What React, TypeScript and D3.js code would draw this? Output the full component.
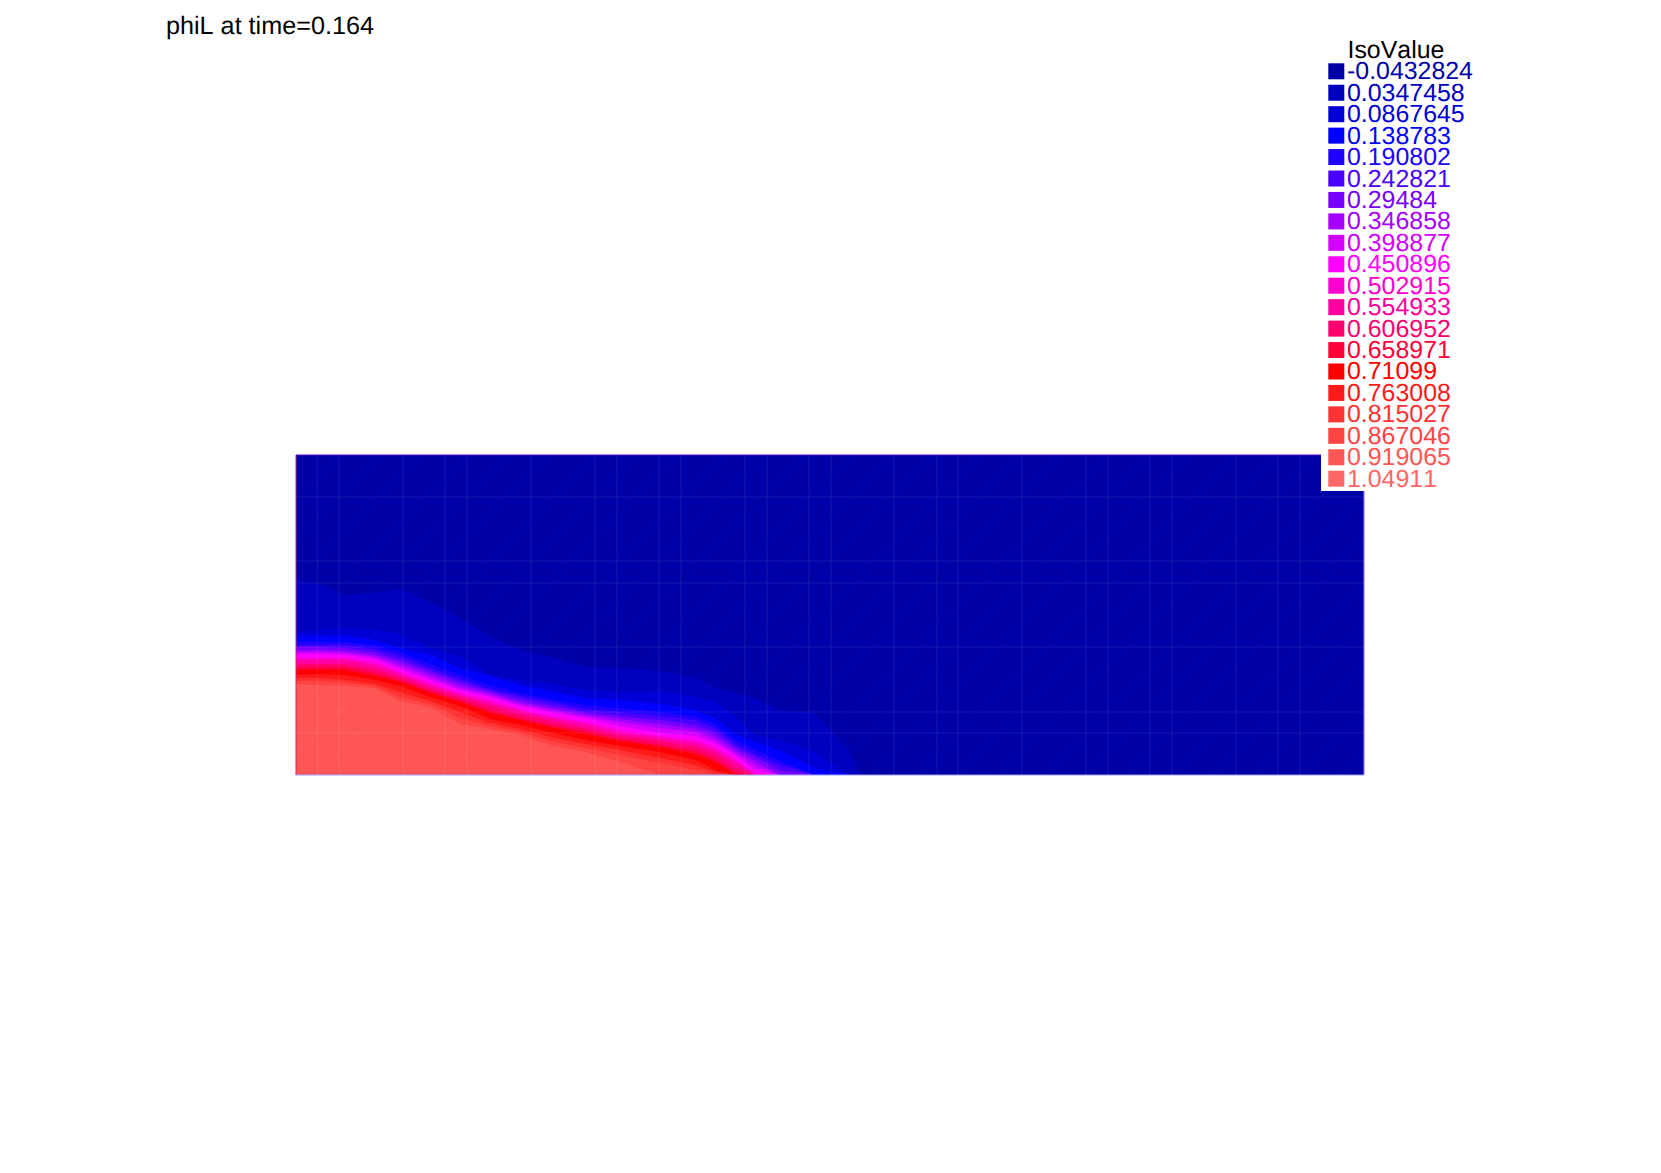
import React from 'react';
import * as d3 from 'd3';

const width = 1661;
const height = 1173;

const title = 'phiL at time=0.164';
const legendTitle = 'IsoValue';

const isoLabels = [
  '-0.0432824', '0.0347458', '0.0867645', '0.138783', '0.190802',
  '0.242821', '0.29484', '0.346858', '0.398877', '0.450896',
  '0.502915', '0.554933', '0.606952', '0.658971', '0.71099',
  '0.763008', '0.815027', '0.867046', '0.919065', '1.04911',
];
const isoColors = [
  '#0000a8', '#0000bf', '#0000d6', '#0000ff', '#2000ff',
  '#4a00ff', '#7800ff', '#a600ff', '#d300ff', '#ff00ff',
  '#ff00d0', '#ff00a0', '#ff0070', '#ff0038', '#ff0000',
  '#ff1a1a', '#ff3333', '#ff4444', '#ff5555', '#ff6666',
];

// mesh units, domain is 10.68 x 3.2
const stations = [0, .24, .49, .79, 1.04, 1.34, 1.64, 1.94, 2.24, 2.54, 2.89, 3.24, 3.64, 3.99, 4.19, 4.39, 4.59, 4.84, 5.19, 5.54, 5.64];

// height of each iso line at the stations (first entry: band 1 starts here)
const isoHeights = [
  [1.96, 1.91, 1.80, 1.82, 1.86, 1.73, 1.57, 1.38, 1.25, 1.18, 1.08, 1.07, 1.04, .98, .87, .82, .77, .65, .62, .23, 0],
  [1.43, 1.45, 1.47, 1.45, 1.41, 1.27, 1.19, 1.00, .95, .92, .85, .83, .84, .78, .73, .59, .40, .35, .23, 0, 0],
  [1.39, 1.39, 1.39, 1.35, 1.27, 1.20, 1.07, .99, .90, .84, .77, .75, .71, .65, .57, .41, .33, .25, .07, 0, 0],
  [1.33, 1.33, 1.33, 1.30, 1.23, 1.11, 1.00, .90, .82, .76, .70, .67, .63, .59, .51, .35, .26, .14, 0, 0, 0],
  [1.30, 1.30, 1.30, 1.26, 1.19, 1.07, .96, .86, .79, .73, .66, .63, .59, .55, .47, .31, .21, .10, 0, 0, 0],
  [1.28, 1.28, 1.27, 1.23, 1.15, 1.04, .93, .84, .76, .70, .63, .59, .55, .50, .43, .28, .18, .05, 0, 0, 0],
  [1.25, 1.25, 1.24, 1.20, 1.12, 1.01, .90, .82, .73, .67, .61, .56, .51, .46, .39, .25, .14, 0, 0, 0, 0],
  [1.23, 1.23, 1.22, 1.18, 1.09, .98, .87, .80, .71, .65, .59, .53, .47, .43, .35, .22, .10, 0, 0, 0, 0],
  [1.21, 1.21, 1.20, 1.16, 1.06, .95, .85, .78, .69, .63, .57, .49, .42, .39, .32, .20, .05, 0, 0, 0, 0],
  [1.17, 1.17, 1.17, 1.13, 1.03, .92, .82, .75, .66, .59, .53, .45, .39, .35, .28, .16, .02, 0, 0, 0, 0],
  [1.15, 1.15, 1.15, 1.10, 1.01, .90, .80, .72, .64, .57, .51, .42, .37, .32, .25, .13, 0, 0, 0, 0, 0],
  [1.11, 1.11, 1.11, 1.06, .98, .87, .78, .69, .61, .54, .47, .39, .34, .28, .21, .08, 0, 0, 0, 0, 0],
  [1.08, 1.08, 1.08, 1.02, .95, .84, .75, .65, .57, .50, .44, .36, .30, .24, .16, .03, 0, 0, 0, 0, 0],
  [1.05, 1.05, 1.05, .99, .93, .82, .73, .62, .55, .48, .41, .34, .28, .21, .13, .01, 0, 0, 0, 0, 0],
  [1.00, 1.01, 1.00, .95, .89, .78, .69, .56, .50, .43, .35, .29, .23, .15, .05, 0, 0, 0, 0, 0, 0],
  [.97, .97, .95, .91, .83, .74, .63, .52, .46, .38, .31, .25, .17, .10, .03, 0, 0, 0, 0, 0, 0],
  [.94, .94, .92, .89, .78, .71, .57, .49, .43, .34, .27, .20, .12, .05, 0, 0, 0, 0, 0, 0, 0],
  [.91, .90, .89, .87, .74, .68, .51, .46, .40, .30, .23, .13, 0, 0, 0, 0, 0, 0, 0, 0, 0],
];

// mesh lines that show through the fill
const meshX = [.213, .43, 1.07, 1.49, 1.71, 2.35, 2.99, 3.21, 3.63, 3.85, 4.49, 4.71, 5.13, 5.35, 5.98, 6.41, 6.62, 7.26, 7.90, 8.12, 8.54, 8.76, 9.40, 9.82, 10.04];
const meshY = [.42, .63, 1.28, 1.92, 2.14, 2.78];
const diagonalStart = d3.range(-3.2, 10.68, .4267);

const x = d3.scaleLinear().domain([0, 10.68]).range([296, 1364]);
const y = d3.scaleLinear().domain([0, 3.2]).range([775, 455]);

const legendRow = d3.scaleLinear().domain([0, 19]).range([63.3, 470.7]);

const area = d3.area<number>()
  .x((_, i) => x(stations[i]))
  .y0(y(0))
  .y1(d => y(d));

const edgeLine = d3.line<[number, number]>().x(d => x(d[0])).y(d => y(d[1]));

const fontFamily = '"Liberation Sans", Arial, sans-serif';
const fontSize = 24.9;

export default function App() {
  return (
    <svg
      width={width}
      height={height}
      viewBox={`0 0 ${width} ${height}`}
      textRendering="geometricPrecision"
      style={{ position: 'absolute', left: 0, top: 0, display: 'block', background: '#fff', fontKerning: 'none' }}
    >
      <defs>
        <clipPath id="domain">
          <rect x={x(0)} y={y(3.2)} width={x(10.68) - x(0)} height={y(0) - y(3.2)} />
        </clipPath>
      </defs>

      <text x={166} y={34} fontFamily={fontFamily} fontSize={25.2} fill="#000">{title}</text>

      <rect x={x(0)} y={y(3.2)} width={x(10.68) - x(0)} height={y(0) - y(3.2)} fill={isoColors[0]} />
      {isoHeights.map((row, i) => (
        <path key={i} d={area(row) ?? ''} fill={isoColors[i + 1]} />
      ))}

      <g stroke="#fff" strokeOpacity={0.09} strokeWidth={1} fill="none" clipPath="url(#domain)">
        {meshX.map(d => <line key={d} x1={x(d)} x2={x(d)} y1={y(0)} y2={y(3.2)} />)}
        {meshY.map(d => <line key={d} x1={x(0)} x2={x(10.68)} y1={y(d)} y2={y(d)} />)}
        <g strokeOpacity={0.045}>
          {diagonalStart.map(d => <path key={d} d={edgeLine([[d, 0], [d + 3.2, 3.2]]) ?? ''} />)}
        </g>
      </g>

      <g fill="none" strokeWidth={1}>
        <path d={edgeLine([[0, 3.2], [10.68, 3.2]]) ?? ''} stroke="#5a10c4" />
        <path d={edgeLine([[0, 0], [0, 3.2]]) ?? ''} stroke="#c02a68" />
        <path d={edgeLine([[10.68, 0], [10.68, 3.2]]) ?? ''} stroke="#a468ff" />
        <path d={edgeLine([[0, 0], [10.68, 0]]) ?? ''} stroke="#a0a0ff" />
      </g>

      <rect x={1321} y={30} width={140} height={461} fill="#fff" />
      <text x={1347.5} y={57.5} fontFamily={fontFamily} fontSize={fontSize} fill="#000">{legendTitle}</text>
      {isoLabels.map((label, i) => (
        <g key={label}>
          <rect x={1328.3} y={legendRow(i)} width={16} height={16} fill={isoColors[i]} />
          <text x={1347} y={legendRow(i) + 16} fontFamily={fontFamily} fontSize={fontSize} fill={isoColors[i]}>{label}</text>
        </g>
      ))}
    </svg>
  );
}
